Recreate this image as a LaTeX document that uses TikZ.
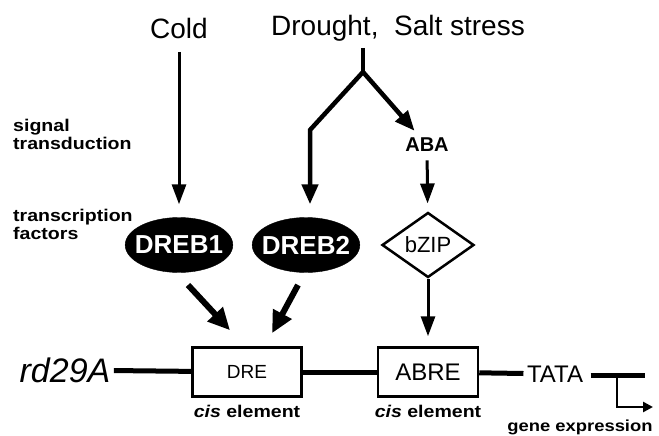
\documentclass[tikz,border=0pt]{standalone}
\usepackage{fontspec}
\setmainfont{Liberation Sans}
\newfontfamily\widesans[FakeStretch=1.15]{Liberation Sans}
\usetikzlibrary{arrows.meta,shapes.geometric,calc}
\begin{document}
\begin{tikzpicture}[x=1pt,y=-1pt,
  big/.style={font=\fontsize{28}{30}\selectfont},
  lab/.style={font=\widesans\fontsize{17}{18}\selectfont\bfseries, align=left, inner sep=0pt},
  tfnode/.style={ellipse, fill=black, draw=black, text=white, minimum width=106pt, minimum height=55pt, inner xsep=-6pt, inner ysep=0pt, font=\fontsize{26}{26}\selectfont\bfseries},
  elem/.style={draw, line width=2.5pt, rectangle, minimum height=49pt, inner sep=0pt},
  arr/.style={line width=3pt, -{Triangle[width=14pt,length=20pt]}},
  branch/.style={line width=4.5pt, -{Triangle[width=16pt,length=20pt]}},
  fat/.style={line width=6pt, -{Triangle[width=20pt,length=22pt]}},
  gene/.style={line width=5pt}
]
\useasboundingbox (0,0) rectangle (659,436);

\node[big] (cold) at (179,28) {Cold};
\node[big] (drought) at (398,28) {Drought,\ \ Salt stress};
\node[lab, anchor=west] (sig) at (13,134) {signal\\transduction};
\node[lab, anchor=west] (tfl) at (13,224) {transcription\\factors};

\node[tfnode] (dreb1) at (179,245) {DREB1};
\node[tfnode] (dreb2) at (306,245) {DREB2};
\node[font=\fontsize{20}{20}\selectfont\bfseries] (aba) at (427,145) {ABA};
\node[diamond, draw, line width=2.5pt, minimum width=92pt, minimum height=65pt, inner sep=0pt, font=\fontsize{22}{22}\selectfont] (bzip) at (428,245) {bZIP};

\node[elem, minimum width=109pt, font=\fontsize{19}{19}\selectfont] (dre) at (247,372) {DRE};
\node[elem, minimum width=100pt, font=\fontsize{24}{24}\selectfont] (abre) at (428,372) {ABRE};
\node[font=\fontsize{34}{34}\selectfont\itshape] (rd) at (65,370) {rd29A};
\node[font=\fontsize{24}{24}\selectfont] (tata) at (555,374) {TATA};
\node[lab] (cis1) at (247,411) {\textit{cis} element};
\node[lab] (cis2) at (428,411) {\textit{cis} element};
\node[lab, font=\widesans\fontsize{16}{17}\selectfont\bfseries] (gexp) at (580,427) {gene expression};

% signal arrows
\draw[arr, shorten <=10pt, shorten >=13pt] (cold) -- (dreb1);
\coordinate (j0) at (363,48);
\coordinate (j) at (363,72);
\coordinate (k) at (310,130);
\draw[line width=4.5pt] (j0) -- (j);
\draw[branch, shorten >=13pt] (j) -- (k) -- (k |- dreb2.north);
\draw[branch, shorten >=5pt] (j) -- (aba);
\draw[arr, shorten <=5pt, shorten >=8pt] (aba) -- (bzip);
\draw[arr, shorten >=10pt] (bzip) -- (abre);

\draw[fat] ($(dreb1)+(9,40)$) -- ($(dre.north)+(-17,-16)$);
\draw[fat] ($(dreb2)+(-8,40)$) -- ($(dre.north)+(25,-13)$);

% gene
\draw[gene] (rd) -- (dre);
\draw[gene] (dre) -- (abre);
\draw[gene] (abre) -- (tata);
\coordinate (gend) at (645,375);
\coordinate (gb) at (617,375);
\coordinate (gx) at (653,407);
\draw[gene, shorten <=4pt] (tata.east |- gend) -- (gend);
\draw[line width=2.5pt, -{Triangle[width=10pt,length=10pt]}] (gb) |- (gx);
\end{tikzpicture}
\end{document}
